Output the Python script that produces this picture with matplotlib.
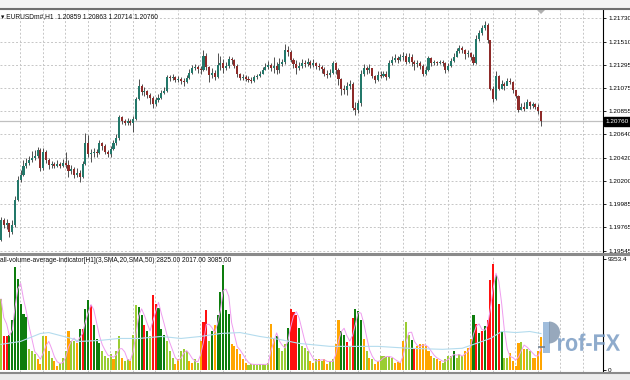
import numpy as np
import pandas as pd
import matplotlib
matplotlib.use('Agg')
import matplotlib.pyplot as plt
from matplotlib.lines import Line2D
from matplotlib.patches import Polygon, Rectangle, Wedge, PathPatch
from matplotlib.textpath import TextPath
from matplotlib.font_manager import FontProperties
import matplotlib.transforms as mtransforms

plt.rcParams['font.family'] = ['Liberation Sans', 'DejaVu Sans']

# ---- EURUSDm#, H1 : last 193 bars (open of a bar = close of the bar before) ----
first_open = 1.1965
close = [
    1.1983, 1.1979, 1.1981, 1.1972, 1.1979, 1.2002, 1.2021, 1.2026, 1.2034, 1.2037,
    1.2040, 1.2042, 1.2044, 1.2049, 1.2032, 1.2047, 1.2040, 1.2035, 1.2036, 1.2034,
    1.2036, 1.2034, 1.2037, 1.2035, 1.2029, 1.2031, 1.2026, 1.2028, 1.2024, 1.2036,
    1.2056, 1.2045, 1.2046, 1.2047, 1.2046, 1.2056, 1.2053, 1.2047, 1.2045, 1.2050,
    1.2056, 1.2060, 1.2080, 1.2076, 1.2075, 1.2076, 1.2075, 1.2078, 1.2097, 1.2109,
    1.2104, 1.2105, 1.2101, 1.2098, 1.2092, 1.2096, 1.2098, 1.2103, 1.2105, 1.2118,
    1.2117, 1.2118, 1.2115, 1.2116, 1.2114, 1.2113, 1.2117, 1.2122, 1.2126, 1.2127,
    1.2125, 1.2124, 1.2138, 1.2127, 1.2120, 1.2122, 1.2118, 1.2129, 1.2131, 1.2126,
    1.2128, 1.2135, 1.2134, 1.2128, 1.2121, 1.2117, 1.2118, 1.2116, 1.2115, 1.2114,
    1.2118, 1.2119, 1.2121, 1.2124, 1.2127, 1.2129, 1.2126, 1.2128, 1.2124, 1.2130,
    1.2132, 1.2143, 1.2141, 1.2134, 1.2130, 1.2126, 1.2128, 1.2131, 1.2130, 1.2132,
    1.2129, 1.2131, 1.2128, 1.2127, 1.2125, 1.2121, 1.2120, 1.2122, 1.2131, 1.2124,
    1.2116, 1.2107, 1.2106, 1.2109, 1.2111, 1.2089, 1.2087, 1.2093, 1.2121, 1.2126,
    1.2124, 1.2126, 1.2119, 1.2115, 1.2120, 1.2119, 1.2121, 1.2118, 1.2131, 1.2134,
    1.2136, 1.2134, 1.2137, 1.2138, 1.2132, 1.2137, 1.2132, 1.2130, 1.2131, 1.2128,
    1.2121, 1.2124, 1.2136, 1.2131, 1.2132, 1.2131, 1.2132, 1.2131, 1.2124, 1.2128,
    1.2133, 1.2137, 1.2142, 1.2145, 1.2143, 1.2139, 1.2140, 1.2137, 1.2131, 1.2154,
    1.2159, 1.2164, 1.2167, 1.2153, 1.2107, 1.2097, 1.2119, 1.2107, 1.2111, 1.2109,
    1.2114, 1.2113, 1.2106, 1.2100, 1.2087, 1.2090, 1.2088, 1.2094, 1.2091, 1.2092,
    1.2090, 1.20859, 1.20760,
]
high = [
    1.1986, 1.1985, 1.1984, 1.1981, 1.1983, 1.2006, 1.2025, 1.2030, 1.2040, 1.2042,
    1.2044, 1.2048, 1.2049, 1.2052, 1.2051, 1.2051, 1.2049, 1.2042, 1.2039, 1.2038,
    1.2040, 1.2038, 1.2041, 1.2047, 1.2040, 1.2035, 1.2033, 1.2032, 1.2030, 1.2039,
    1.2065, 1.2063, 1.2050, 1.2051, 1.2050, 1.2059, 1.2057, 1.2055, 1.2049, 1.2053,
    1.2059, 1.2064, 1.2082, 1.2081, 1.2078, 1.2079, 1.2078, 1.2081, 1.2099, 1.2116,
    1.2111, 1.2108, 1.2106, 1.2103, 1.2100, 1.2099, 1.2102, 1.2106, 1.2108, 1.2120,
    1.2120, 1.2121, 1.2119, 1.2119, 1.2118, 1.2117, 1.2120, 1.2125, 1.2129, 1.2130,
    1.2129, 1.2128, 1.2143, 1.2140, 1.2128, 1.2126, 1.2124, 1.2140, 1.2138, 1.2135,
    1.2132, 1.2138, 1.2137, 1.2135, 1.2130, 1.2122, 1.2121, 1.2120, 1.2119, 1.2118,
    1.2120, 1.2121, 1.2123, 1.2127, 1.2131, 1.2133, 1.2131, 1.2137, 1.2132, 1.2136,
    1.2135, 1.2149, 1.2147, 1.2143, 1.2136, 1.2134, 1.2132, 1.2135, 1.2134, 1.2136,
    1.2134, 1.2135, 1.2132, 1.2131, 1.2129, 1.2127, 1.2124, 1.2125, 1.2133, 1.2132,
    1.2126, 1.2117, 1.2110, 1.2113, 1.2115, 1.2113, 1.2094, 1.2096, 1.2124, 1.2130,
    1.2128, 1.2130, 1.2124, 1.2120, 1.2123, 1.2123, 1.2123, 1.2123, 1.2134, 1.2138,
    1.2139, 1.2138, 1.2139, 1.2141, 1.2140, 1.2140, 1.2139, 1.2134, 1.2134, 1.2133,
    1.2130, 1.2128, 1.2138, 1.2137, 1.2134, 1.2133, 1.2134, 1.2134, 1.2132, 1.2131,
    1.2136, 1.2140, 1.2145, 1.2148, 1.2147, 1.2144, 1.2143, 1.2141, 1.2139, 1.2157,
    1.2162, 1.2167, 1.2170, 1.2169, 1.2153, 1.2109, 1.2123, 1.2120, 1.2115, 1.2113,
    1.2117, 1.2117, 1.2114, 1.2106, 1.2101, 1.2093, 1.2094, 1.2097, 1.2095, 1.2094,
    1.2093, 1.2092, 1.20863,
]
low = [
    1.1964, 1.1976, 1.1975, 1.1967, 1.1970, 1.1977, 1.2001, 1.2019, 1.2025, 1.2032,
    1.2035, 1.2038, 1.2040, 1.2042, 1.2029, 1.2030, 1.2037, 1.2031, 1.2032, 1.2032,
    1.2033, 1.2032, 1.2033, 1.2032, 1.2024, 1.2027, 1.2023, 1.2024, 1.2019, 1.2023,
    1.2035, 1.2043, 1.2038, 1.2043, 1.2043, 1.2045, 1.2049, 1.2045, 1.2043, 1.2043,
    1.2049, 1.2054, 1.2059, 1.2074, 1.2073, 1.2073, 1.2073, 1.2066, 1.2077, 1.2096,
    1.2101, 1.2100, 1.2098, 1.2092, 1.2089, 1.2091, 1.2094, 1.2097, 1.2102, 1.2104,
    1.2114, 1.2115, 1.2113, 1.2113, 1.2111, 1.2109, 1.2112, 1.2116, 1.2121, 1.2124,
    1.2122, 1.2121, 1.2123, 1.2124, 1.2113, 1.2117, 1.2115, 1.2117, 1.2124, 1.2122,
    1.2124, 1.2126, 1.2130, 1.2126, 1.2118, 1.2115, 1.2115, 1.2114, 1.2113, 1.2112,
    1.2113, 1.2116, 1.2118, 1.2121, 1.2124, 1.2125, 1.2123, 1.2122, 1.2121, 1.2122,
    1.2128, 1.2130, 1.2138, 1.2132, 1.2126, 1.2121, 1.2124, 1.2126, 1.2127, 1.2128,
    1.2126, 1.2127, 1.2125, 1.2124, 1.2122, 1.2119, 1.2117, 1.2118, 1.2121, 1.2121,
    1.2110, 1.2101, 1.2102, 1.2101, 1.2107, 1.2087, 1.2082, 1.2084, 1.2091, 1.2119,
    1.2121, 1.2122, 1.2117, 1.2112, 1.2114, 1.2117, 1.2118, 1.2115, 1.2117, 1.2129,
    1.2132, 1.2131, 1.2133, 1.2134, 1.2130, 1.2131, 1.2128, 1.2124, 1.2127, 1.2125,
    1.2119, 1.2120, 1.2123, 1.2128, 1.2129, 1.2129, 1.2130, 1.2128, 1.2122, 1.2123,
    1.2127, 1.2132, 1.2137, 1.2140, 1.2140, 1.2135, 1.2137, 1.2134, 1.2129, 1.2130,
    1.2152, 1.2157, 1.2162, 1.2150, 1.2106, 1.2094, 1.2096, 1.2106, 1.2107, 1.2106,
    1.2110, 1.2111, 1.2103, 1.2098, 1.2085, 1.2087, 1.2086, 1.2090, 1.2088, 1.2089,
    1.2088, 1.2083, 1.20714,
]

# tick volume per bar and its colour code: g dark green, r red, l light green, o orange
volume = [
    6010, 2840, 2840, 3000, 4260, 8700, 7700, 5600, 4760, 4510,
    1750, 1590, 1340, 920, 500, 2840, 2840, 1590, 1000, 750,
    330, 580, 1000, 1590, 3260, 2420, 2420, 2250, 3510, 3510,
    5180, 5930, 5510, 3840, 2590, 2250, 1590, 1170, 1000, 1340,
    920, 1590, 2840, 1000, 750, 920, 750, 3000, 5510, 5340,
    4680, 3840, 3260, 2840, 6350, 5600, 5260, 3510, 3000, 2420,
    1590, 1000, 500, 920, 1590, 1750, 1590, 750, 580, 920,
    580, 2420, 4090, 5090, 2420, 3260, 3840, 4680, 6600, 8850,
    5090, 4760, 2170, 2000, 1750, 1340, 920, 580, 420, 500,
    500, 420, 500, 500, 420, 580, 3920, 2670, 2840, 1840,
    1590, 2170, 3590, 5180, 4930, 4680, 3590, 2000, 1840, 1590,
    750, 580, 920, 920, 750, 920, 500, 750, 920, 2170,
    4260, 3340, 3000, 2340, 2000, 4430, 5180, 5010, 4260, 2590,
    1590, 1000, 920, 500, 750, 1170, 1170, 1090, 1170, 1000,
    580, 670, 580, 2420, 4090, 3000, 2500, 1750, 2000, 2170,
    2170, 2000, 1590, 1170, 1000, 920, 750, 580, 920, 1170,
    1170, 1590, 1000, 1340, 1170, 1590, 1840, 2590, 4680, 3920,
    3090, 3260, 3760, 4260, 7600, 8930, 8020, 5600, 3340, 1000,
    1000, 1420, 750, 330, 2250, 2340, 1750, 1750, 1590, 1000,
    1000, 1590, 2825,
]
vol_color = ("lrrggggggg" "llloolollo" "olllollogr" "ggrgggllll" "ollollollg"
             "grglrrgggl" "lloolllool" "lorrlgoggg" "ggooooooll" "lllllloogl"
             "llgrrrglll" "oololoollo" "oggrlrgggo" "loloolllll" "oooollgroo"
             "ooooloolll" "lglllooogr" "grgrrrgrgl" "loooolollo" "ooo")

# slow volume average (light blue), read at some bars
blue_idx = [0, 7, 14, 17, 25, 28, 35, 42, 49, 57, 64, 71, 78, 85, 92, 99, 106, 113,
            117, 124, 134, 145, 157, 164, 169, 174, 178, 183, 188, 192]
blue_val = [2170, 2420, 3090, 3170, 2670, 2420, 2500, 2670, 2670, 2840, 2670, 2840,
            3090, 3170, 2840, 2590, 2250, 2090, 2000, 2000, 2000, 1840, 1750, 1840,
            2250, 2670, 3260, 3170, 3260, 3085]

price_ticks = [1.21730, 1.21510, 1.21295, 1.21075, 1.20855, 1.20640,
               1.20420, 1.20200, 1.19985, 1.19765, 1.19545]
last_price = 1.20760
vol_max = 9353.4
title = "\u25be EURUSDm#,H1  1.20859 1.20863 1.20714 1.20760"
ind_title = "all-volume-average-indicator[H1](3,SMA,20,SMA,50) 2825.00 2017.00 3085.00"

# ---- prep ----
close = np.array(close)
high = np.array(high)
low = np.array(low)
n = len(close)
idx = np.arange(n)
opn = np.r_[first_open, close[:-1]]

bull_c = '#23786a'
bear_c = '#8e2b29'
vcols = {'g': '#0d7d0d', 'r': '#ff1010', 'l': '#9acd32', 'o': '#ffa500'}
grid_c = '#c6c6c6'
lab_fs = 4.6

W, H = 630, 380
fig = plt.figure(figsize=(6.3, 3.8), dpi=100)
fig.patch.set_facecolor('white')


def box(x0, y0, x1, y1):
    return [x0 / W, 1 - y1 / H, (x1 - x0) / W, (y1 - y0) / H]


ax1 = fig.add_axes(box(0, 10, 603, 252))
ax2 = fig.add_axes(box(0, 255, 603, 372), sharex=ax1)

px = 2.8125  # pixels per bar
x_left = -1 / px
ax1.set_xlim(x_left, x_left + 603 / px)
ax1.set_ylim(1.19533, 1.21808)
ax2.set_ylim(-169, 9734)

# vertical grid every 8 bars in both panels
vgrid = np.arange(6.756, x_left + 603 / px, 8)
for a in (ax1, ax2):
    for p in vgrid:
        a.axvline(p, color=grid_c, lw=0.7, ls=(0, (2, 2)), zorder=0.5)

# ---- price panel ----
ax1.set_yticks(price_ticks)
ax1.set_yticklabels(['%.5f' % t for t in price_ticks])
ax1.yaxis.grid(True, color=grid_c, lw=0.7, ls=(0, (2, 2)))
ax1.set_axisbelow(True)
ax1.axhline(last_price, color='#c0c0c0', lw=0.9, zorder=0.8)

ax1.vlines(idx, low, high, color='#333333', lw=0.6, zorder=2)
up = close >= opn
body_lo = np.minimum(opn, close)
body_h = np.maximum(np.abs(close - opn), 0.00003)
ax1.bar(idx[up], body_h[up], bottom=body_lo[up], width=0.72,
        color=bull_c, edgecolor='none', zorder=3)
ax1.bar(idx[~up], body_h[~up], bottom=body_lo[~up], width=0.72,
        color=bear_c, edgecolor='none', zorder=3)

ax1.text(0.002, 1 - 3 / 242, title, transform=ax1.transAxes, va='top', ha='left',
         fontsize=4.75, color='#111111')

# last price tag on the axis
tr = mtransforms.blended_transform_factory(ax1.transAxes, ax1.transData)
ax1.text(1.0035, last_price, '%.5f' % last_price, transform=tr, va='center', ha='left',
         fontsize=lab_fs, color='white',
         bbox=dict(boxstyle='square,pad=0.25', fc='black', ec='black'))

# ---- volume panel ----
ax2.bar(idx, volume, width=0.72, color=[vcols[c] for c in vol_color],
        edgecolor='none', zorder=2)
fast = pd.Series(volume, dtype=float).rolling(3, min_periods=1).mean()
ax2.plot(idx, fast, color='#ef9cef', lw=0.7, zorder=3)
ax2.plot(blue_idx, blue_val, color='#b4dcee', lw=0.8, zorder=3)
ax2.set_yticks([0, vol_max])
ax2.set_yticklabels(['0', '%.1f' % vol_max])
ax2.text(0.0, 1 - 2 / 117, ind_title, transform=ax2.transAxes, va='top', ha='left',
         fontsize=4.75, color='#111111')

for a in (ax1, ax2):
    a.yaxis.tick_right()
    a.tick_params(axis='y', direction='out', length=2.5, width=0.6, pad=1.2,
                  labelsize=lab_fs, colors='black')
    a.tick_params(axis='x', bottom=False, labelbottom=False)
    a.spines['left'].set_visible(False)
    a.spines['right'].set_color('black')
    a.spines['right'].set_linewidth(0.8)
    a.spines['top'].set_visible(False)
    a.spines['bottom'].set_visible(False)
    a.set_facecolor('white')


# window frame lines
def hline_px(y, lw, color):
    fig.add_artist(Line2D([0, 1], [1 - y / H, 1 - y / H], transform=fig.transFigure,
                          color=color, lw=lw))


fig.add_artist(Rectangle((0, 1 - 8 / H), 1, 8 / H, transform=fig.transFigure,
                         color='#f2f2f2', lw=0))
fig.add_artist(Rectangle((0, 0), 1, 6 / H, transform=fig.transFigure,
                         color='#ececec', lw=0))
hline_px(9, 1.5, '#6e6e6e')
hline_px(253.5, 2.2, '#8a8a8a')
hline_px(373, 1.5, '#8a8a8a')

# chart shift marker
fig.add_artist(Polygon([[537 / W, 1 - 10 / H], [545 / W, 1 - 10 / H], [541 / W, 1 - 14 / H]],
                       closed=True, transform=fig.transFigure, color='#b0b0b0', lw=0))

# watermark logo (pixel coordinates, origin bottom-left)
pix = mtransforms.IdentityTransform()
fig.add_artist(Rectangle((543, H - 353), 7, 31, transform=pix, color='#8fb2d6',
                         alpha=0.85, lw=0))
fig.add_artist(Wedge((549, H - 332.5), 11, -90, 90, transform=pix, color='#7d93ab',
                     alpha=0.8, lw=0))
fig.add_artist(Rectangle((538, H - 348), 7, 2, transform=pix, color='#6d7f92',
                         alpha=0.8, lw=0))
tp = TextPath((0, 0), 'rof-FX', size=1,
              prop=FontProperties(family='Liberation Sans', weight='bold'))
ext = tp.get_extents()
sx = 62 / ext.width
sy = 17.5 / ext.height
wm = mtransforms.Affine2D().translate(-ext.x0, -ext.y0).scale(sx, sy).translate(558, H - 351)
fig.add_artist(PathPatch(tp, transform=wm + pix, color='#7b9dc4', alpha=0.85, lw=0))

fig.savefig('out.png', dpi=100)
